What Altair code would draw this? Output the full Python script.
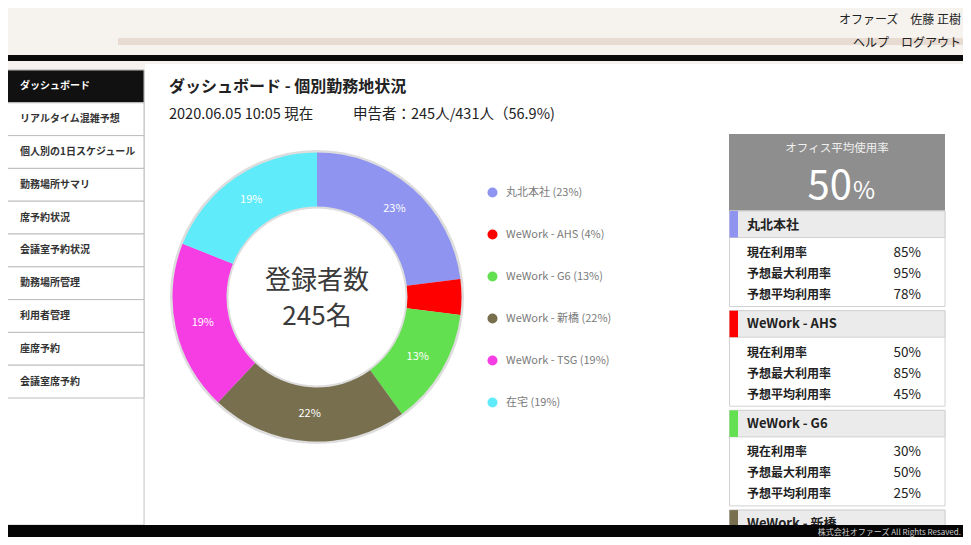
import altair as alt
import pandas as pd

# ---------------- data ----------------
places = ["丸北本社", "WeWork - AHS", "WeWork - G6", "WeWork - 新橋", "WeWork - TSG", "在宅"]
shares = [23, 4, 13, 22, 19, 19]
colors = ["#8f94f0", "#ff0000", "#63e04f", "#786f4f", "#f63de4", "#60ebfa"]

menu = ["ダッシュボード", "リアルタイム混雑予想", "個人別の1日スケジュール", "勤務場所サマリ",
        "席予約状況", "会議室予約状況", "勤務場所管理", "利用者管理", "座席予約", "会議室席予約"]

card_places = ["丸北本社", "WeWork - AHS", "WeWork - G6", "WeWork - 新橋"]
card_colors = ["#8f94f0", "#ff0000", "#63e04f", "#786f4f"]
metric_labels = ["現在利用率", "予想最大利用率", "予想平均利用率"]
current_rate = [85, 50, 30]
peak_rate = [95, 85, 50]
avg_rate = [78, 45, 25]

registered = 245
total_staff = 431
reported_pct = "56.9"
office_avg = 50
date_text = "2020.06.05 10:05 現在"
user_name = "オファーズ　佐藤 正樹"

FONT = "Noto Sans CJK JP"
OX, OY = 8, 8


def px(v):
    return v - OX


def py(v):
    return v - OY


one = pd.DataFrame({"k": [0]})


def rect(x1, y1, x2, y2, fill, stroke=None, sw=0):
    props = dict(fill=fill)
    if stroke:
        props.update(stroke=stroke, strokeWidth=sw)
    else:
        props.update(strokeWidth=0)
    return alt.Chart(one).mark_rect(**props).encode(
        x=alt.value(px(x1)), x2=alt.value(px(x2)),
        y=alt.value(py(y1)), y2=alt.value(py(y2)))


def label(x, y, s, size=12, color="#222222", weight="normal", align="left"):
    return alt.Chart(one).mark_text(
        text=s, fontSize=size, color=color, fontWeight=weight, align=align,
        baseline="middle", font=FONT).encode(x=alt.value(px(x)), y=alt.value(py(y)))


layers = []
# background / header
layers.append(rect(0, 0, 971, 545, "#f6f2ee"))
layers.append(rect(118, 38, 971, 45, "#e8dbd1"))
layers.append(rect(0, 55, 971, 61, "#0a0a0a"))
layers.append(label(961, 20, user_name, 12, "#222222", align="right"))
layers.append(label(961, 43, "ヘルプ　ログアウト", 12, "#222222", align="right"))

# main white panel and sidebar
layers.append(rect(145, 64, 971, 525, "#ffffff"))
layers.append(rect(5, 70, 144, 525, "#ffffff", stroke="#c8c8c8", sw=1))

ITEM_H = 32.8
menu_df = pd.DataFrame({"item": menu, "idx": list(range(len(menu)))})
menu_base = alt.Chart(menu_df).transform_calculate(
    y0=f"{py(70)} + datum.idx * {ITEM_H}",
    y1=f"{py(70)} + (datum.idx + 1) * {ITEM_H}",
    yc=f"{py(70)} + (datum.idx + 0.5) * {ITEM_H}",
)
layers.append(menu_base.mark_rect(stroke="#bdbdbd", strokeWidth=1).encode(
    x=alt.value(px(5)), x2=alt.value(px(144)),
    y=alt.Y("y0:Q", scale=None), y2="y1:Q",
    fill=alt.condition("datum.idx == 0", alt.value("#111111"), alt.value("#ffffff"))))
layers.append(menu_base.mark_text(align="left", baseline="middle", fontSize=10,
                                  fontWeight="bold", font=FONT).encode(
    x=alt.value(px(20)), y=alt.Y("yc:Q", scale=None), text="item:N",
    color=alt.condition("datum.idx == 0", alt.value("#ffffff"), alt.value("#333333"))))

# titles
layers.append(label(169, 87, "ダッシュボード - 個別勤務地状況", 16, "#222222", weight="bold"))
layers.append(label(169, 115, date_text, 14.5, "#222222"))
layers.append(label(353, 115, f"申告者：{registered}人/{total_staff}人（{reported_pct}%)",
                    14.5, "#222222"))

# donut
CX, CY = 317, 297
pie_df = pd.DataFrame({
    "place": places,
    "share": shares,
    "idx": list(range(len(places))),
    "legend": [f"{p} ({s}%)" for p, s in zip(places, shares)],
})
legend_labels = list(pie_df["legend"])

layers.append(alt.Chart(one).mark_arc(theta=0, theta2=6.2832, radius=147, radius2=86,
                                      color="#dddddd").encode(
    x=alt.value(px(CX)), y=alt.value(py(CY))))
layers.append(alt.Chart(one).mark_arc(theta=0, theta2=6.2832, radius=88.5, radius2=0,
                                      color="#ffffff").encode(
    x=alt.value(px(CX)), y=alt.value(py(CY))))

layers.append(alt.Chart(pie_df).mark_arc(radius=144.5, radius2=90.5, strokeWidth=0).encode(
    theta=alt.Theta("share:Q", stack=True),
    order=alt.Order("idx:Q"),
    color=alt.Color("legend:N", sort=legend_labels,
                    scale=alt.Scale(domain=legend_labels, range=colors),
                    legend=alt.Legend(orient="none", legendX=px(487), legendY=py(187),
                                      title=None, symbolType="circle", symbolSize=100,
                                      symbolStrokeWidth=0, symbolOpacity=1,
                                      labelFont=FONT, labelFontSize=11, labelColor="#7a7a7a",
                                      labelOffset=8, rowPadding=30, labelLimit=300)),
    x=alt.value(px(CX)), y=alt.value(py(CY))))

layers.append(alt.Chart(pie_df).transform_calculate(
    pct="datum.share >= 10 ? datum.share + '%' : ''"
).mark_text(radius=117, color="#ffffff", fontSize=11, font=FONT).encode(
    theta=alt.Theta("share:Q", stack=True),
    order=alt.Order("idx:Q"),
    text="pct:N",
    x=alt.value(px(CX)), y=alt.value(py(CY))))

layers.append(label(CX, 281, "登録者数", 26, "#3a3a3a", align="center"))
layers.append(label(CX, 317, f"{registered}名", 26, "#3a3a3a", align="center"))

# right panel
layers.append(rect(729, 134, 945, 211, "#8e8e8e"))
layers.append(label(837, 149, "オフィス平均使用率", 11.5, "#f0f0f0", align="center"))
layers.append(alt.Chart(one).mark_text(text=f"{office_avg}", fontSize=40, color="#ffffff",
                                       align="right", baseline="alphabetic", font=FONT).encode(
    x=alt.value(px(852)), y=alt.value(py(199))))
layers.append(alt.Chart(one).mark_text(text="%", fontSize=24, color="#ffffff",
                                       align="left", baseline="alphabetic", font=FONT).encode(
    x=alt.value(px(853)), y=alt.value(py(199))))

CARD_Y0, CARD_STEP = 211, 99.7
card_df = pd.DataFrame({"place": card_places, "color": card_colors,
                        "idx": list(range(len(card_places)))})
card_base = alt.Chart(card_df).transform_calculate(
    top=f"{py(CARD_Y0)} + datum.idx * {CARD_STEP}",
    hb=f"{py(CARD_Y0)} + datum.idx * {CARD_STEP} + 26.5",
    bb=f"{py(CARD_Y0)} + datum.idx * {CARD_STEP} + 95.5",
    hc=f"{py(CARD_Y0)} + datum.idx * {CARD_STEP} + 13.5",
)
layers.append(card_base.mark_rect(fill="#ffffff", stroke="#d2d2d2", strokeWidth=1).encode(
    x=alt.value(px(729.5)), x2=alt.value(px(945)),
    y=alt.Y("top:Q", scale=None), y2="bb:Q"))
layers.append(card_base.mark_rect(fill="#ebebeb", stroke="#d2d2d2", strokeWidth=1).encode(
    x=alt.value(px(729.5)), x2=alt.value(px(945)),
    y=alt.Y("top:Q", scale=None), y2="hb:Q"))
layers.append(card_base.mark_rect(strokeWidth=0).encode(
    x=alt.value(px(729.5)), x2=alt.value(px(738)),
    y=alt.Y("top:Q", scale=None), y2="hb:Q",
    fill=alt.Fill("color:N", scale=None)))
layers.append(card_base.mark_text(align="left", baseline="middle", fontSize=13,
                                  fontWeight="bold", color="#222222", font=FONT).encode(
    x=alt.value(px(747)), y=alt.Y("hc:Q", scale=None), text="place:N"))

rows = []
for ci, vals in enumerate(zip(current_rate, peak_rate, avg_rate)):
    for mi, (ml, v) in enumerate(zip(metric_labels, vals)):
        rows.append({"card": ci, "m": mi, "metric": ml, "value": f"{v}%"})
metric_df = pd.DataFrame(rows)
metric_base = alt.Chart(metric_df).transform_calculate(
    yc=f"{py(CARD_Y0)} + datum.card * {CARD_STEP} + 42 + datum.m * 21")
layers.append(metric_base.mark_text(align="left", baseline="middle", fontSize=12,
                                    fontWeight="bold", color="#222222", font=FONT).encode(
    x=alt.value(px(747)), y=alt.Y("yc:Q", scale=None), text="metric:N"))
layers.append(metric_base.mark_text(align="right", baseline="middle", fontSize=13.5,
                                    color="#222222", font=FONT).encode(
    x=alt.value(px(921)), y=alt.Y("yc:Q", scale=None), text="value:N"))

# footer
layers.append(rect(0, 525, 971, 545, "#050505"))
layers.append(label(961, 532.5, "株式会社オファーズ All Rights Resaved.", 8, "#d0d0d0", align="right"))

chart = alt.layer(*layers).properties(
    width=955, height=529, padding=0,
    autosize=alt.AutoSizeParams(type="none"),
    background="#ffffff",
).configure_view(strokeWidth=0)

chart.save("out.html", embed_options={"renderer": "svg", "actions": False})
